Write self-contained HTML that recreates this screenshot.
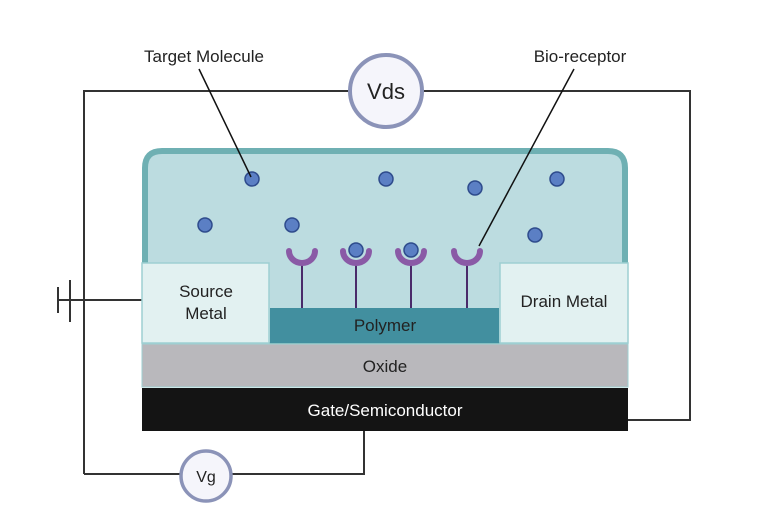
<!DOCTYPE html>
<html><head><meta charset="utf-8"><style>
html,body{margin:0;padding:0;background:#fff}
svg{display:block}
text{font-family:"Liberation Sans",sans-serif;fill:#222}
</style></head><body>
<svg width="770" height="516" viewBox="0 0 770 516" xmlns="http://www.w3.org/2000/svg">
<rect width="770" height="516" fill="#fff"/>
<g stroke="#333" stroke-width="2" fill="none">
<polyline points="84,474 84,91 349,91"/>
<polyline points="423,91 690,91 690,420 628,420"/>
<polyline points="84,474 180,474"/>
<polyline points="232,474 364,474 364,430"/>
<line x1="58" y1="300" x2="142" y2="300"/>
<line x1="58" y1="287" x2="58" y2="313"/>
<line x1="70" y1="280" x2="70" y2="322"/>
</g>
<path d="M145,345 L145,168 Q145,151 162,151 L608,151 Q625,151 625,168 L625,345 Z" fill="#bcdce0" stroke="#6fb0b3" stroke-width="6"/>
<rect x="142" y="263" width="127" height="80" fill="#e2f1f1" stroke="#9ecfd2" stroke-width="1.5"/>
<rect x="500" y="263" width="128" height="80" fill="#e2f1f1" stroke="#9ecfd2" stroke-width="1.5"/>
<rect x="270" y="308" width="229" height="35" fill="#428f9f"/>
<rect x="142" y="344" width="486" height="43" fill="#b9b8bc" stroke="#9ecfd2" stroke-width="1"/>
<rect x="142" y="388" width="486" height="43" fill="#141414"/>
<text x="206" y="297" font-size="17" text-anchor="middle">Source</text>
<text x="206" y="319" font-size="17" text-anchor="middle">Metal</text>
<text x="564" y="307" font-size="17" text-anchor="middle">Drain Metal</text>
<text x="385" y="331" font-size="17" text-anchor="middle">Polymer</text>
<text x="385" y="372" font-size="17" text-anchor="middle">Oxide</text>
<text x="385" y="416" font-size="17" text-anchor="middle" style="fill:#fff">Gate/Semiconductor</text>
<g fill="#5b7fc4" stroke="#2e4b8c" stroke-width="1.5">
<circle cx="252" cy="179" r="7"/><circle cx="386" cy="179" r="7"/><circle cx="475" cy="188" r="7"/><circle cx="557" cy="179" r="7"/>
<circle cx="205" cy="225" r="7"/><circle cx="292" cy="225" r="7"/><circle cx="535" cy="235" r="7"/>
</g>
<g stroke="#4a2a6a" stroke-width="2"><line x1="302" y1="262" x2="302" y2="308"/><line x1="356" y1="262" x2="356" y2="308"/><line x1="411" y1="262" x2="411" y2="308"/><line x1="467" y1="262" x2="467" y2="308"/></g>
<g fill="none" stroke="#8a5aa6" stroke-width="6" stroke-linecap="round">
<path d="M289,251 A13,12 0 0 0 315,251"/><path d="M343,251 A13,12 0 0 0 369,251"/><path d="M398,251 A13,12 0 0 0 424,251"/><path d="M454,251 A13,12 0 0 0 480,251"/>
</g>
<g fill="#5b7fc4" stroke="#2e4b8c" stroke-width="1.5"><circle cx="356" cy="250" r="7"/><circle cx="411" cy="250" r="7"/></g>
<circle cx="386" cy="91" r="36" fill="#f5f5fb" stroke="#8b93b8" stroke-width="4"/>
<text x="386" y="99" font-size="22" text-anchor="middle">Vds</text>
<circle cx="206" cy="476" r="25" fill="#f5f5fb" stroke="#8b93b8" stroke-width="3.5"/>
<text x="206" y="482" font-size="16" text-anchor="middle">Vg</text>
<text x="204" y="62" font-size="17" text-anchor="middle">Target Molecule</text>
<text x="580" y="62" font-size="17" text-anchor="middle">Bio-receptor</text>
<g stroke="#111" stroke-width="1.5"><line x1="199" y1="69" x2="251" y2="177"/><line x1="574" y1="69" x2="479" y2="246"/></g>
</svg>
</body></html>
